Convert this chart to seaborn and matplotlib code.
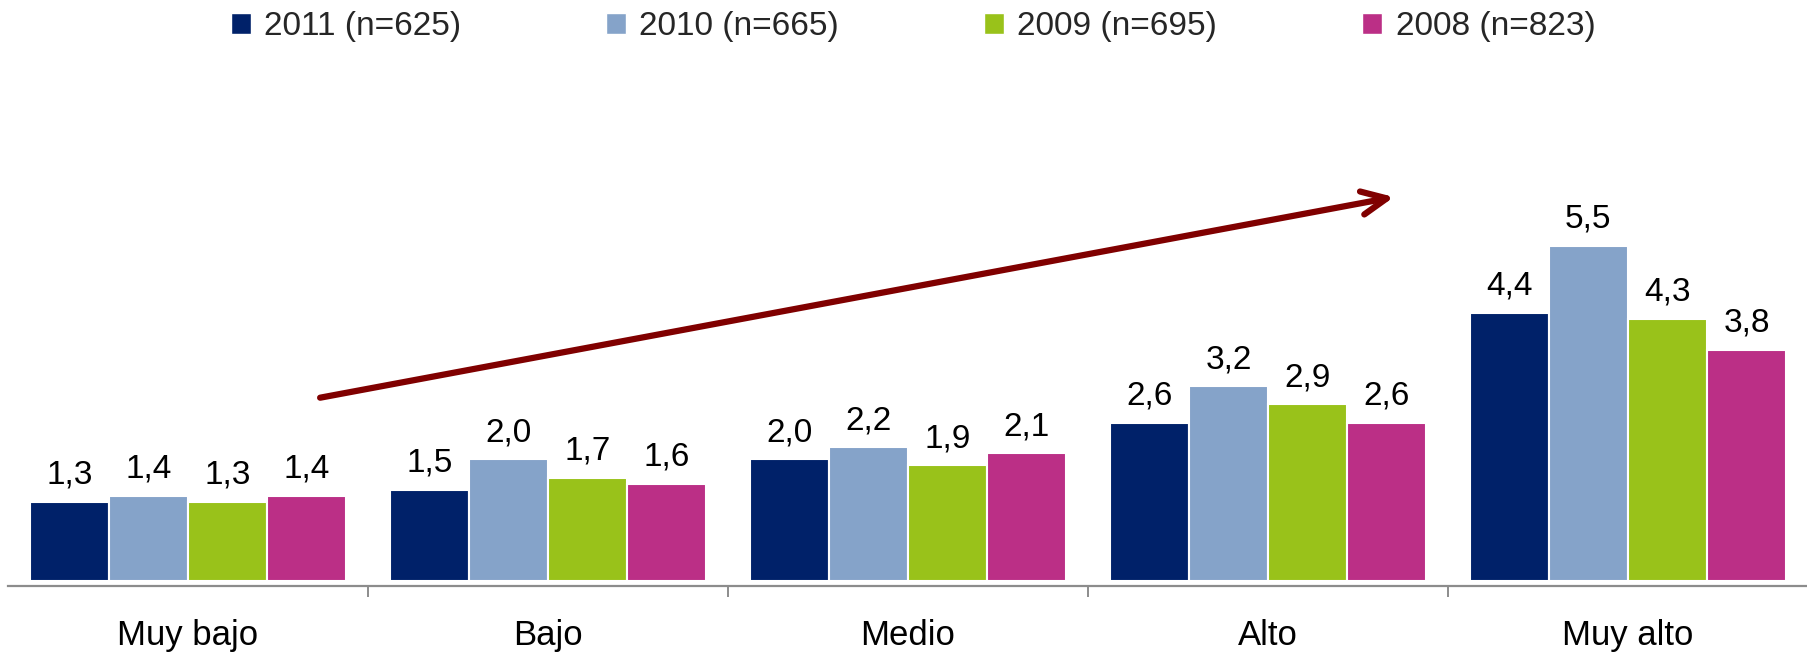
import matplotlib
matplotlib.use("Agg")
import matplotlib.pyplot as plt
import numpy as np
import pandas as pd
import seaborn as sns
from matplotlib.patches import Patch

CATEGORIES = ["Muy bajo", "Bajo", "Medio", "Alto", "Muy alto"]
SERIES = ["2011 (n=625)", "2010 (n=665)", "2009 (n=695)", "2008 (n=823)"]
V_2011 = [1.3, 1.5, 2.0, 2.6, 4.4]
V_2010 = [1.4, 2.0, 2.2, 3.2, 5.5]
V_2009 = [1.3, 1.7, 1.9, 2.9, 4.3]
V_2008 = [1.4, 1.6, 2.1, 2.6, 3.8]

PALETTE = ["#002169", "#85a3c9", "#99c21a", "#bb2f86"]
ARROW_RED = "#800000"
AXIS_GREY = "#8c8c8c"

sns.set_style("white")
plt.rcParams["font.family"] = ["Liberation Sans", "DejaVu Sans"]

DPI = 100
FIGSIZE = (1808 / DPI, 653 / DPI)

rows = []
for name, vals in zip(SERIES, [V_2011, V_2010, V_2009, V_2008]):
    for cat, v in zip(CATEGORIES, vals):
        rows.append({"nivel": cat, "serie": name, "valor": v})
df = pd.DataFrame(rows)

fig = plt.figure(figsize=FIGSIZE, dpi=DPI)
ax = fig.add_axes([8 / 1808, 67.3 / 653, 1800 / 1808, 585.7 / 653])

sns.barplot(
    data=df,
    x="nivel",
    y="valor",
    hue="serie",
    order=CATEGORIES,
    hue_order=SERIES,
    palette=PALETTE,
    width=0.88,
    edgecolor="white",
    linewidth=1.5,
    saturation=1,
    legend=False,
    ax=ax,
)

for cont in ax.containers:
    labels = [f"{b.get_height():.1f}".replace(".", ",") for b in cont]
    ax.bar_label(cont, labels=labels, padding=8, fontsize=24, color="black")

ax.set_xlim(-0.5, 4.5)
ax.set_ylim(-0.072, 9.53)
ax.set_xlabel("")
ax.set_ylabel("")
ax.set_yticks([])

for side in ["top", "right", "left"]:
    ax.spines[side].set_visible(False)
ax.spines["bottom"].set_color(AXIS_GREY)
ax.spines["bottom"].set_linewidth(1.6)

# group separators as minor ticks, category names without ticks
ax.set_xticks(np.arange(0.5, len(CATEGORIES) - 1, 1.0), minor=True)
ax.tick_params(axis="x", which="major", bottom=False, length=0, pad=24,
               labelsize=25, labelcolor="black")
ax.tick_params(axis="x", which="minor", bottom=True, length=8, width=1.4,
               color=AXIS_GREY, direction="out")

# trend arrow
ax.annotate(
    "",
    xy=(3.35, 6.30),
    xytext=(0.367, 3.01),
    arrowprops=dict(
        arrowstyle="->,head_length=0.9,head_width=0.42",
        mutation_scale=20,
        color=ARROW_RED,
        lw=4.5,
        capstyle="round",
        joinstyle="round",
        shrinkA=0,
        shrinkB=0,
    ),
)

handles = [Patch(facecolor=c, edgecolor="white") for c in PALETTE]
fig.legend(
    handles,
    SERIES,
    loc="center",
    bbox_to_anchor=(0.505, 1 - 27 / 653),
    ncol=4,
    frameon=False,
    fontsize=24,
    handlelength=0.6,
    handleheight=0.6,
    handletextpad=0.4,
    columnspacing=4.35,
)

fig.savefig("out.png", dpi=DPI)
plt.close(fig)
